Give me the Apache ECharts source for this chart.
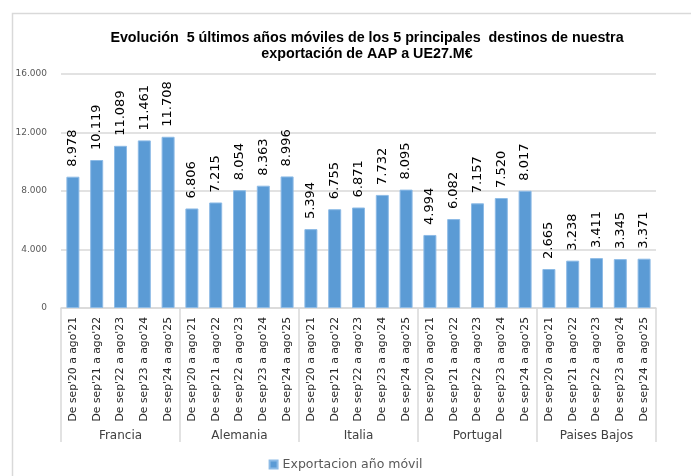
<!DOCTYPE html>
<html>
<head>
<meta charset="utf-8">
<script src="https://cdn.jsdelivr.net/npm/echarts@6/dist/echarts.min.js"></script>
<style>
  html, body { margin: 0; padding: 0; background: #fff; }
  #chart { width: 691px; height: 476px; }
</style>
</head>
<body>
<div id="chart"></div>
<script>
var countries = ['Francia', 'Alemania', 'Italia', 'Portugal', 'Paises Bajos']
var periods = ["De sep'20 a ago'21", "De sep'21 a ago'22", "De sep'22 a ago'23", "De sep'23 a ago'24", "De sep'24 a ago'25"]
var francia = [8978, 10119, 11089, 11461, 11708]
var alemania = [6806, 7215, 8054, 8363, 8996]
var italia = [5394, 6755, 6871, 7732, 8095]
var portugal = [4994, 6082, 7157, 7520, 8017]
var paisesBajos = [2665, 3238, 3411, 3345, 3371]
var yTicks = [0, 4000, 8000, 12000, 16000]

var byCountry = [francia, alemania, italia, portugal, paisesBajos]
var catLabels = []
var values = []
byCountry.forEach(function (arr) {
  arr.forEach(function (v, i) {
    catLabels.push(periods[i])
    values.push(v)
  })
})

function fmt (v) {
  return String(v).replace(/\B(?=(\d{3})+(?!\d))/g, '.')
}

var chart = echarts.init(document.getElementById('chart'))
chart.setOption({
  animation: false,
  textStyle: { fontFamily: 'DejaVu Sans' },
  graphic: [{
    type: 'rect',
    shape: { x: 12.5, y: 13.5, width: 700, height: 480 },
    style: { fill: 'none', stroke: '#d9d9d9', lineWidth: 1.5 },
    silent: true
  }],
  title: {
    text: 'Evolución  5 últimos años móviles de los 5 principales  destinos de nuestra\nexportación de AAP a UE27.M€',
    left: 362,
    textAlign: 'center',
    top: 25,
    textStyle: {
      fontFamily: 'Liberation Sans',
      fontWeight: 'bold',
      fontSize: 14.3,
      lineHeight: 16,
      color: '#000'
    }
  },
  legend: {
    data: ['Exportacion año móvil'],
    bottom: 0,
    left: 'center',
    icon: 'rect',
    itemWidth: 8,
    itemHeight: 8,
    itemGap: 5,
    textStyle: { color: '#595959', fontSize: 12.5, fontFamily: 'DejaVu Sans' }
  },
  grid: { left: 61, right: 35, top: 74, bottom: 168 },
  xAxis: [{
    type: 'category',
    data: catLabels,
    axisLine: { lineStyle: { color: '#d9d9d9', width: 1.5 } },
    axisTick: { show: false },
    axisLabel: {
      interval: 0,
      rotate: 90,
      margin: 9,
      fontSize: 10.8,
      color: '#262626'
    }
  }, {
    type: 'category',
    data: countries,
    position: 'bottom',
    axisLine: { show: false },
    axisTick: { show: true, length: 134, lineStyle: { color: '#d9d9d9', width: 1.5 } },
    axisLabel: { interval: 0, margin: 122, fontSize: 12, color: '#404040' }
  }],
  yAxis: {
    type: 'value',
    min: yTicks[0],
    max: yTicks[yTicks.length - 1],
    interval: 4000,
    axisLine: { show: false },
    axisTick: { show: false },
    splitLine: { lineStyle: { color: '#d9d9d9', width: 1.5 } },
    axisLabel: {
      margin: 14,
      fontSize: 9,
      color: '#595959',
      formatter: function (v) { return fmt(v) }
    }
  },
  series: [{
    name: 'Exportacion año móvil',
    type: 'bar',
    data: values,
    barWidth: 13,
    itemStyle: { color: '#5b9bd5', borderColor: '#8dbbe6', borderWidth: 1 },
    label: {
      show: true,
      position: 'top',
      rotate: 90,
      align: 'left',
      verticalAlign: 'middle',
      distance: 10,
      fontSize: 13,
      color: '#000',
      formatter: function (p) { return fmt(p.value) }
    }
  }]
})
</script>
</body>
</html>
